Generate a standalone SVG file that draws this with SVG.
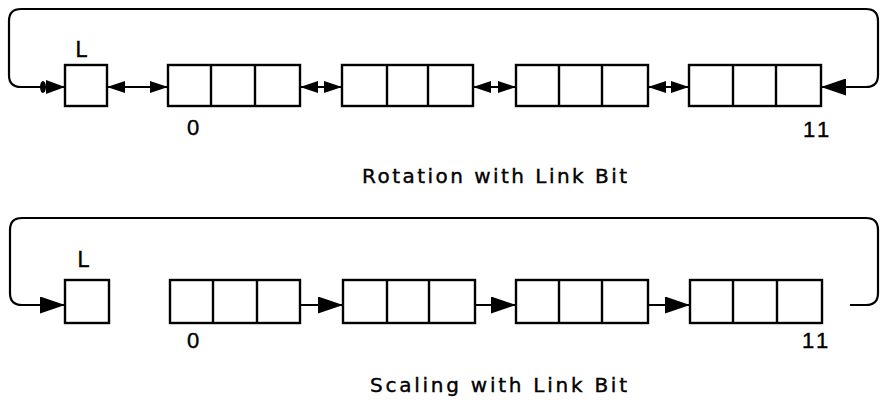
<svg xmlns="http://www.w3.org/2000/svg" width="880" height="404" viewBox="0 0 880 404">
  <defs>
    <style>
      .box { fill: #fff; stroke: #000; stroke-width: 2.4; }
      .div { stroke: #000; stroke-width: 2.4; }
      .wire { fill: none; stroke: #000; stroke-width: 2.2; }
      .lbl { font-family: "DejaVu Sans", "Liberation Sans", sans-serif; fill: #000; stroke: #000; stroke-width: 0.4; }
      .num { font-family: "Liberation Sans", "DejaVu Sans", sans-serif; font-size: 22px; fill: #000; stroke: #000; stroke-width: 0.4; }
      .cap { font-family: "DejaVu Sans", "Liberation Sans", sans-serif; font-size: 20px; fill: #000; stroke: #000; stroke-width: 0.4; }
    </style>
    <!-- head for the two-way shift links -->
    <marker id="head" markerUnits="userSpaceOnUse" markerWidth="18" markerHeight="14" refX="18" refY="7" orient="auto-start-reverse">
      <path d="M0,1 L18,7 L0,13 Z" fill="#000"/>
    </marker>
    <!-- head with tail blob entering the link bit -->
    <marker id="headL" markerUnits="userSpaceOnUse" markerWidth="26" markerHeight="16" refX="26" refY="8" orient="auto">
      <ellipse cx="4" cy="8" rx="3" ry="6" fill="#000"/>
      <path d="M7,1 L26,8 L7,15 Z" fill="#000"/>
    </marker>
    <!-- large head for the return path and scaling links -->
    <marker id="headBig" markerUnits="userSpaceOnUse" markerWidth="25" markerHeight="17" refX="25" refY="8.5" orient="auto-start-reverse">
      <path d="M0,0 L25,8.5 L0,17 Z" fill="#000"/>
    </marker>
  </defs>

  <rect width="880" height="404" fill="#fff"/>

  <!-- ===== Rotation with Link Bit ===== -->
  <g id="rot-link">
    <rect class="box" x="65" y="65" width="42" height="41"/>
    <text class="lbl" x="81" y="57" font-size="21" text-anchor="middle">L</text>
  </g>
  <g id="rot-reg0">
    <rect class="box" x="168" y="65" width="132" height="41"/>
    <line class="div" x1="211" y1="65" x2="211" y2="106"/>
    <line class="div" x1="255" y1="65" x2="255" y2="106"/>
    <text class="num" x="193" y="135" text-anchor="middle">0</text>
  </g>
  <g id="rot-reg1">
    <rect class="box" x="342" y="65" width="131" height="41"/>
    <line class="div" x1="387" y1="65" x2="387" y2="106"/>
    <line class="div" x1="428" y1="65" x2="428" y2="106"/>
  </g>
  <g id="rot-reg2">
    <rect class="box" x="516" y="65" width="132" height="41"/>
    <line class="div" x1="559" y1="65" x2="559" y2="106"/>
    <line class="div" x1="602" y1="65" x2="602" y2="106"/>
  </g>
  <g id="rot-reg3">
    <rect class="box" x="689" y="65" width="132" height="41"/>
    <line class="div" x1="733" y1="65" x2="733" y2="106"/>
    <line class="div" x1="776" y1="65" x2="776" y2="106"/>
    <text class="num" x="803 817" y="137">11</text>
  </g>
  <text class="cap" x="362" y="183" textLength="265" lengthAdjust="spacing">Rotation with Link Bit</text>

  <!-- ===== Scaling with Link Bit ===== -->
  <g id="scl-link">
    <rect class="box" x="65" y="280" width="44" height="43"/>
    <text class="lbl" x="83" y="267" font-size="21" text-anchor="middle">L</text>
  </g>
  <g id="scl-reg0">
    <rect class="box" x="170" y="280" width="130" height="43"/>
    <line class="div" x1="213" y1="280" x2="213" y2="323"/>
    <line class="div" x1="257" y1="280" x2="257" y2="323"/>
    <text class="num" x="193" y="348" text-anchor="middle">0</text>
  </g>
  <g id="scl-reg1">
    <rect class="box" x="343" y="280" width="132" height="43"/>
    <line class="div" x1="387" y1="280" x2="387" y2="323"/>
    <line class="div" x1="429" y1="280" x2="429" y2="323"/>
  </g>
  <g id="scl-reg2">
    <rect class="box" x="516" y="280" width="132" height="43"/>
    <line class="div" x1="559" y1="280" x2="559" y2="323"/>
    <line class="div" x1="602" y1="280" x2="602" y2="323"/>
  </g>
  <g id="scl-reg3">
    <rect class="box" x="690" y="280" width="132" height="43"/>
    <line class="div" x1="733" y1="280" x2="733" y2="323"/>
    <line class="div" x1="777" y1="280" x2="777" y2="323"/>
    <text class="num" x="802 816" y="348">11</text>
  </g>
  <text class="cap" x="370" y="392" textLength="257" lengthAdjust="spacing">Scaling with Link Bit</text>

  <!-- ===== connectors ===== -->
  <g id="connectors">
    <!-- rotation: return loop from bit 11 round to the link bit -->
    <path class="wire" d="M821,87 H866 Q878,87 878,75 V21 Q878,9 866,9 H21 Q9,9 9,21 V75 Q9,87 21,87 H65"
          marker-start="url(#headBig)" marker-end="url(#headL)"/>
    <line class="wire" x1="107" y1="87" x2="168" y2="87" marker-start="url(#head)" marker-end="url(#head)"/>
    <line class="wire" x1="300" y1="87" x2="342" y2="87" marker-start="url(#head)" marker-end="url(#head)"/>
    <line class="wire" x1="473" y1="87" x2="516" y2="87" marker-start="url(#head)" marker-end="url(#head)"/>
    <line class="wire" x1="648" y1="87" x2="689" y2="87" marker-start="url(#head)" marker-end="url(#head)"/>

    <!-- scaling: loop into the link bit, right end open -->
    <path class="wire" d="M850,305 H866 Q878,305 878,293 V230 Q878,218 866,218 H22 Q10,218 10,230 V293 Q10,305 22,305 H65"
          marker-end="url(#headBig)"/>
    <line class="wire" x1="300" y1="305" x2="343" y2="305" marker-end="url(#headBig)"/>
    <line class="wire" x1="475" y1="305" x2="516" y2="305" marker-end="url(#headBig)"/>
    <line class="wire" x1="648" y1="305" x2="690" y2="305" marker-end="url(#headBig)"/>
  </g>
</svg>
